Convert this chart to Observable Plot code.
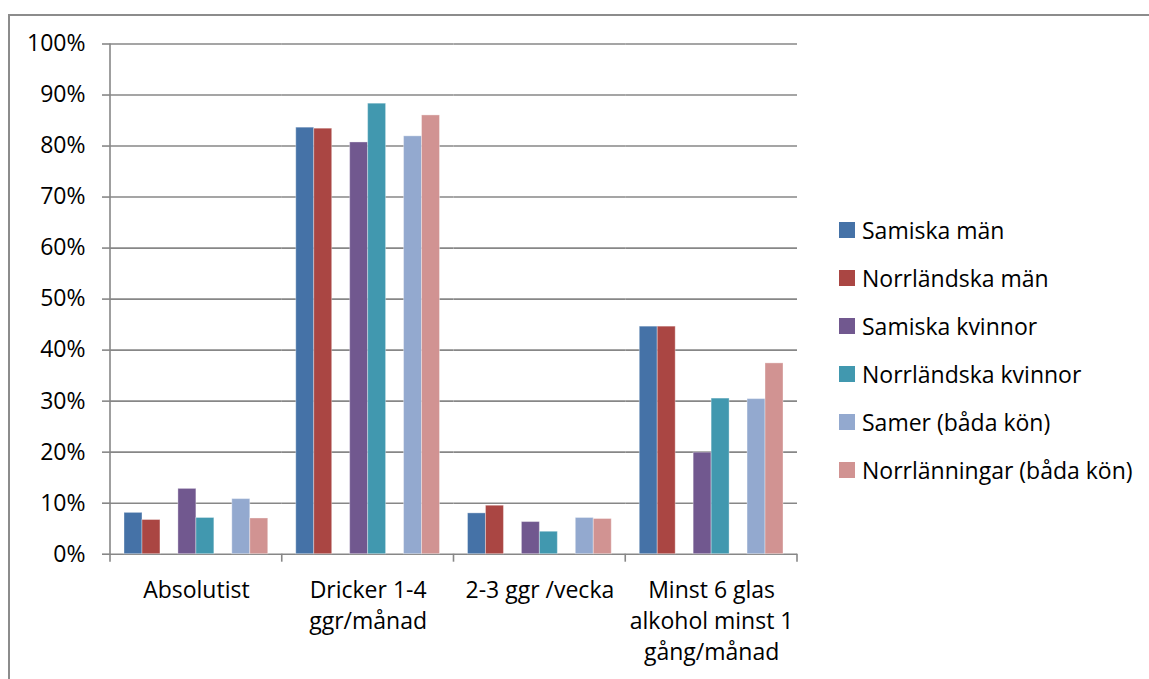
<!DOCTYPE html>
<html>
<head>
<meta charset="utf-8">
<script src="https://cdn.jsdelivr.net/npm/d3@7"></script>
<script src="https://cdn.jsdelivr.net/npm/@observablehq/plot@0.6"></script>
<style>
  body { margin: 0; background: #fff; }
  #wrap { position: relative; width: 1149px; height: 679px; overflow: hidden; font-family: "Open Sans", sans-serif; }
  #border { position: absolute; left: 8px; top: 14px; right: -4px; bottom: -4px; border-left: 2px solid #8c8c8c; border-top: 2px solid #8c8c8c; }
  #chart { position: absolute; left: 0; top: 0; }
  #legend { position: absolute; left: 839px; top: 206px; }
  #legend .row { display: flex; align-items: center; height: 48px; font-size: 23px; color: #000; }
  #legend .sw { width: 16px; height: 16px; margin-right: 7px; flex: none; }
</style>
</head>
<body>
<div id="wrap">
  <div id="border"></div>
  <div id="chart"></div>
  <div id="legend"></div>
</div>
<script>
// Drinking habits, share of each group (%)
const categories = [
  "Absolutist",
  "Dricker 1-4 ggr/månad",
  "2-3 ggr /vecka",
  "Minst 6 glas alkohol minst 1 gång/månad"
];
const categoryLabels = [
  "Absolutist",
  "Dricker 1-4\nggr/månad",
  "2-3 ggr /vecka",
  "Minst 6 glas\nalkohol minst 1\ngång/månad"
];
const series = [
  "Samiska män",
  "Norrländska män",
  "Samiska kvinnor",
  "Norrländska kvinnor",
  "Samer (båda kön)",
  "Norrlänningar (båda kön)"
];
const colors = ["#4572a7", "#aa4643", "#71588f", "#4198af", "#93a9cf", "#d19392"];

const samiskaMan         = [8.1, 83.6, 8.0, 44.6];
const norrlandskaMan     = [6.7, 83.4, 9.5, 44.6];
const samiskaKvinnor     = [12.8, 80.7, 6.3, 19.9];
const norrlandskaKvinnor = [7.1, 88.3, 4.4, 30.5];
const samer              = [10.8, 81.9, 7.1, 30.4];
const norrlanningar      = [7.0, 86.0, 6.9, 37.4];

const yTicks = [0, 10, 20, 30, 40, 50, 60, 70, 80, 90, 100];

// Bars are paired (men, women, both sexes) with an empty slot between pairs
const slots = [series[0], series[1], "_s1", series[2], series[3], "_s2", series[4], series[5]];

const valuesBySeries = [samiskaMan, norrlandskaMan, samiskaKvinnor, norrlandskaKvinnor, samer, norrlanningar];
const rows = [];
series.forEach((s, i) => {
  categories.forEach((c, j) => rows.push({category: c, series: s, value: valuesBySeries[i][j]}));
});

const W = 1149, H = 679;
const mLeft = 110, mRight = W - 797, mTop = 43.5, mBottom = H - 553.7;

const chart = Plot.plot({
  width: W,
  height: H,
  marginLeft: mLeft,
  marginRight: mRight,
  marginTop: mTop,
  marginBottom: mBottom,
  style: {fontFamily: "Open Sans, sans-serif", fontSize: "23px", color: "#000", background: "transparent"},
  fx: {domain: categories, padding: 0, round: false, label: null},
  x: {domain: slots, paddingInner: 0, paddingOuter: 0.78, round: false, axis: null},
  y: {domain: [0, 100], label: null},
  color: {domain: series, range: colors},
  marks: [
    Plot.gridY(yTicks, {stroke: "#878787", strokeOpacity: 1, strokeWidth: 1.6}),
    Plot.axisY({ticks: yTicks, tickFormat: d => d + "%", tickSize: 8, tickPadding: 17, stroke: "#878787", strokeWidth: 1.6, label: null}),
    Plot.barY(rows, {fx: "category", x: "series", y: "value", fill: "series", stroke: "#ffffff", strokeOpacity: 0.35, strokeWidth: 1, inset: 0}),
    Plot.axisFx({anchor: "bottom", tickSize: 0, tickPadding: 22, tickFormat: c => categoryLabels[categories.indexOf(c)], lineHeight: 1.34, label: null})
  ]
});
document.getElementById("chart").appendChild(chart);

// Y axis line and category boundary ticks, placed from the plot's own scales
const fx = chart.scale("fx");
const y = chart.scale("y");
const svg = d3.select(chart);
const y0 = y.apply(0), y100 = y.apply(100);
const bounds = categories.map(c => fx.apply(c)).concat([fx.apply(categories[categories.length - 1]) + fx.bandwidth]);
const g = svg.append("g").attr("stroke", "#878787").attr("stroke-width", 1.6);
g.append("line").attr("x1", bounds[0]).attr("x2", bounds[0]).attr("y1", y100).attr("y2", y0 + 8);
bounds.slice(1).forEach(b => g.append("line").attr("x1", b).attr("x2", b).attr("y1", y0).attr("y2", y0 + 8));

// Legend
const legend = d3.select("#legend");
series.forEach((s, i) => {
  const row = legend.append("div").attr("class", "row");
  row.append("div").attr("class", "sw").style("background", colors[i]);
  row.append("span").text(s);
});
</script>
</body>
</html>
